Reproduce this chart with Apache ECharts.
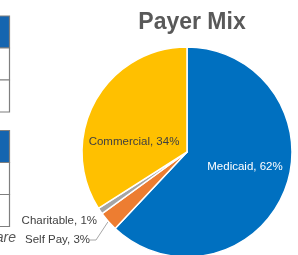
<!DOCTYPE html>
<html>
<head>
<meta charset="utf-8">
<script src="https://cdn.jsdelivr.net/npm/echarts@6/dist/echarts.min.js"></script>
<style>
  html, body { margin: 0; padding: 0; background: #fff; }
  #chart { width: 298px; height: 255px; }
</style>
</head>
<body>
<div id="chart"></div>
<script>
// 数据
const payers = ["Medicaid", "Self Pay", "Charitable", "Commercial"]
const shares = [62, 3, 1, 34]
const colors = ["#0070C0", "#ED7D31", "#A5A5A5", "#FFC000"]

// 标签位置 (label anchor)
const labelPos = {
  Medicaid: { x: 245, y: 167, align: "center" },
  Commercial: { x: 134, y: 142, align: "center" },
  Charitable: { x: 97, y: 221, align: "right" },
  "Self Pay": { x: 90, y: 240, align: "right" }
}

// 左侧被裁切的表格
function tableGraphics(top) {
  const els = []
  const rowH = 32
  els.push({
    type: "rect",
    shape: { x: -10, y: top, width: 19.5, height: rowH },
    style: { fill: "#1565B0", stroke: "#7f7f7f", lineWidth: 1.2 }
  })
  for (let i = 1; i <= 2; i++) {
    els.push({
      type: "rect",
      shape: { x: -10, y: top + rowH * i, width: 19.5, height: rowH },
      style: { fill: "#fff", stroke: "#7f7f7f", lineWidth: 1.2 }
    })
  }
  return els
}

const chart = echarts.init(document.getElementById("chart"))

chart.setOption({
  animation: false,
  title: {
    text: "Payer Mix",
    left: 187,
    textAlign: "center",
    top: 6,
    textStyle: {
      fontFamily: "Liberation Sans",
      fontSize: 23,
      fontWeight: "bold",
      color: "#595959"
    }
  },
  graphic: [
    ...tableGraphics(16),
    ...tableGraphics(130.5),
    {
      type: "text",
      x: 16,
      y: 238,
      style: {
        text: "are",
        align: "right",
        verticalAlign: "middle",
        font: "italic 14px Liberation Sans",
        fill: "#595959"
      }
    }
  ],
  series: [
    {
      type: "pie",
      center: [187, 152],
      radius: 105,
      startAngle: 90,
      clockwise: true,
      itemStyle: { borderColor: "#fff", borderWidth: 1.5 },
      label: {
        fontFamily: "Liberation Sans",
        fontSize: 11.5,
        overflow: "none",
        formatter: "{b}, {c}%"
      },
      emphasis: { disabled: true },
      data: payers.map((name, i) => {
        const inside = name === "Medicaid" || name === "Commercial"
        return {
          name,
          value: shares[i],
          itemStyle: { color: colors[i] },
          label: {
            position: inside ? "inside" : "outside",
            overflow: "none",
            color: name === "Medicaid" ? "#fff" : "#404040"
          },
          labelLine: {
            show: name === "Self Pay",
            length: 12,
            length2: 6,
            lineStyle: { color: "#a6a6a6", width: 1 }
          }
        }
      }),
      labelLayout: function (params) {
        const name = payers[params.dataIndex]
        const p = labelPos[name]
        return {
          x: p.x,
          y: p.y,
          align: p.align,
          verticalAlign: "middle"
        }
      }
    }
  ]
})
</script>
</body>
</html>
